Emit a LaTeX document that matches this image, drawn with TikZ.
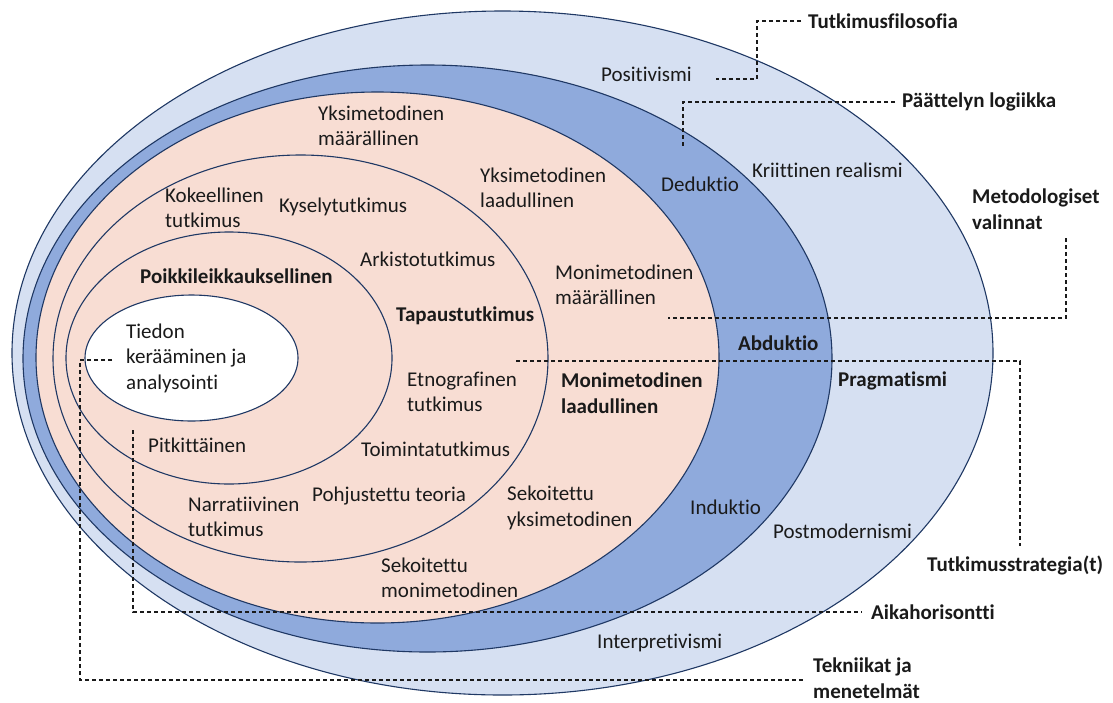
\documentclass[tikz,border=0pt]{standalone}
\usepackage{fontspec}
\setmainfont{Carlito}[Ligatures=NoCommon]
\definecolor{outerblue}{HTML}{D6E0F2}
\definecolor{midblue}{HTML}{8FAADC}
\definecolor{pinkfill}{HTML}{F8DDD3}
\definecolor{edge}{HTML}{1F3864}
\definecolor{ink}{HTML}{1A1A1A}
\begin{document}
\begin{tikzpicture}[x=1pt,y=-1pt,
  ring/.style={draw=edge, line width=1.1pt},
  lbl/.style={anchor=west, inner sep=0pt, align=left, text=ink, font=\fontsize{21}{25.5}\selectfont},
  blbl/.style={lbl, font=\fontsize{21}{25.5}\selectfont\bfseries},
  conn/.style={draw=ink, line width=1.1pt, dash pattern=on 4pt off 3pt}]
\useasboundingbox (0,0) rectangle (1113,702);
\fill[white] (0,0) rectangle (1113,702);

% nested ellipses
\path[ring, fill=outerblue] (502.5,353) ellipse [x radius=490.5pt, y radius=342pt];
\path[ring, fill=midblue] (427.5,358.5) ellipse [x radius=404.5pt, y radius=293.5pt];
\path[ring, fill=pinkfill] (377.5,357.5) ellipse [x radius=341.5pt, y radius=265.5pt];
\path[ring, fill=pinkfill] (300.5,358.5) ellipse [x radius=247.5pt, y radius=203.5pt];
\path[ring, fill=pinkfill] (229,358) ellipse [x radius=163pt, y radius=126pt];
\path[ring, fill=white] (191.5,358) ellipse [x radius=106.5pt, y radius=63pt];

% labels
\node[blbl] (tf) at (808,21) {Tutkimusfilosofia};
\node[lbl] (pos) at (601,74) {Positivismi};
\node[blbl] (pl) at (902,102) {Päättelyn logiikka};
\node[lbl] (ymm) at (318,126) {Yksimetodinen\\määrällinen};
\node[lbl] (ded) at (661,184) {Deduktio};
\node[lbl] (kr) at (752,170) {Kriittinen realismi};
\node[lbl] (yml) at (480,188) {Yksimetodinen\\laadullinen};
\node[lbl] (kok) at (165,208) {Kokeellinen\\tutkimus};
\node[lbl] (kys) at (279,207) {Kyselytutkimus};
\node[blbl] (mv) at (972,209) {Metodologiset\\valinnat};
\node[lbl] (ark) at (360,259) {Arkistotutkimus};
\node[lbl] (mmm) at (555,285) {Monimetodinen\\määrällinen};
\node[blbl] (poi) at (140,276) {Poikkileikkauksellinen};
\node[blbl] (tap) at (396,316) {Tapaustutkimus};
\node[lbl] (tied) at (126,358) {Tiedon\\kerääminen ja\\analysointi};
\node[blbl] (abd) at (738,343) {Abduktio};
\node[blbl] (prag) at (838,381) {Pragmatismi};
\node[blbl] (mml) at (561,393) {Monimetodinen\\laadullinen};
\node[lbl] (etn) at (407,392) {Etnografinen\\tutkimus};
\node[lbl] (pit) at (148,445) {Pitkittäinen};
\node[lbl] (toim) at (361,449) {Toimintatutkimus};
\node[lbl] (narr) at (188,517) {Narratiivinen\\tutkimus};
\node[lbl] (pohj) at (312,496) {Pohjustettu teoria};
\node[lbl] (syk) at (507,508) {Sekoitettu\\yksimetodinen};
\node[lbl] (ind) at (690,507) {Induktio};
\node[lbl] (pm) at (773,531) {Postmodernismi};
\node[blbl] (ts) at (927,565) {Tutkimusstrategia(t)};
\node[lbl] (smm) at (381,578) {Sekoitettu\\monimetodinen};
\node[blbl] (ah) at (871,612) {Aikahorisontti};
\node[lbl] (int) at (597,643) {Interpretivismi};
\node[blbl] (tm) at (813,678) {Tekniikat ja\\menetelmät};

% connector end points
\coordinate (c1) at (716,79);
\coordinate (c2) at (683,146);
\coordinate (c3a) at (1066,238);
\coordinate (c3) at (668,318);
\coordinate (c4) at (516,361);
\coordinate (c4a) at (1020,546);
\coordinate (c5) at (133,430);
\coordinate (c6) at (112,360);
\coordinate (c6a) at (80,360);

% dashed connectors
\draw[conn] ([xshift=-7pt]tf.west) -| (757,79) -- (c1);
\draw[conn] ([xshift=-7pt]pl.west) -| (c2);
\draw[conn] (c3a) |- (c3);
\draw[conn] (c4) -| (c4a);
\draw[conn] (c5) |- ([xshift=-9pt]ah.west);
\draw[conn] (c6) -- (c6a) |- ([xshift=-10pt,yshift=-2pt]tm.west);
\end{tikzpicture}
\end{document}
